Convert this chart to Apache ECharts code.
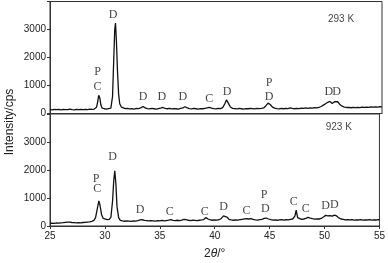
<!DOCTYPE html>
<html>
<head>
<meta charset="utf-8">
<script src="https://cdn.jsdelivr.net/npm/echarts@6/dist/echarts.min.js"></script>
<style>
  html, body { margin: 0; padding: 0; background: #fff; }
  #main { width: 388px; height: 263px; }
</style>
</head>
<body>
<div id="main"></div>
<script>
// ось 2θ и интенсивность (cps)
let angleTicks = [25, 30, 35, 40, 45, 50, 55];
let intensityTicks = [0, 1000, 2000, 3000];

// 293 K
let scan293 = [
  [25.0, 140], [25.2, 130], [25.4, 150], [25.6, 135], [25.8, 145], [26.0, 130], [26.2, 150], [26.4, 140],
  [26.6, 135], [26.8, 155], [27.0, 140], [27.2, 130], [27.4, 150], [27.6, 140], [27.8, 145], [28.0, 135],
  [28.2, 150], [28.4, 140], [28.6, 155], [28.8, 145], [29.0, 160], [29.2, 220], [29.3, 400], [29.4, 650],
  [29.5, 560], [29.6, 300], [29.7, 200], [29.9, 170], [30.1, 160], [30.3, 175], [30.5, 190], [30.65, 600],
  [30.75, 1800], [30.85, 3000], [30.92, 3230], [31.0, 2600], [31.1, 1500], [31.2, 700], [31.3, 350], [31.45, 230],
  [31.6, 190], [31.8, 175], [32.0, 180], [32.2, 165], [32.4, 175], [32.6, 160], [32.8, 180], [33.0, 175],
  [33.2, 200], [33.4, 250], [33.6, 200], [33.8, 175], [34.0, 165], [34.2, 180], [34.4, 170], [34.6, 160],
  [34.8, 175], [35.0, 190], [35.2, 215], [35.4, 180], [35.6, 170], [35.8, 185], [36.0, 165], [36.2, 175],
  [36.4, 170], [36.6, 160], [36.8, 180], [37.0, 200], [37.2, 240], [37.4, 200], [37.6, 175], [37.8, 165],
  [38.0, 180], [38.2, 170], [38.4, 160], [38.6, 175], [38.8, 170], [39.0, 185], [39.2, 200], [39.4, 215],
  [39.6, 190], [39.8, 175], [40.0, 165], [40.2, 180], [40.4, 175], [40.6, 210], [40.8, 350], [40.95, 490],
  [41.1, 380], [41.3, 230], [41.5, 185], [41.7, 175], [41.9, 165], [42.1, 180], [42.3, 170], [42.5, 160],
  [42.7, 175], [42.9, 170], [43.1, 185], [43.3, 175], [43.5, 165], [43.7, 180], [43.9, 175], [44.1, 185],
  [44.3, 200], [44.5, 270], [44.7, 370], [44.9, 320], [45.1, 230], [45.3, 190], [45.5, 175], [45.7, 165],
  [45.9, 180], [46.1, 170], [46.3, 185], [46.5, 175], [46.7, 200], [46.9, 180], [47.1, 170], [47.3, 185],
  [47.5, 175], [47.7, 190], [47.9, 180], [48.1, 200], [48.3, 185], [48.5, 200], [48.7, 190], [48.9, 210],
  [49.1, 200], [49.3, 215], [49.5, 250], [49.7, 300], [49.9, 350], [50.1, 400], [50.3, 430], [50.5, 360],
  [50.7, 420], [50.85, 490], [51.0, 420], [51.2, 320], [51.4, 260], [51.6, 230], [51.8, 215], [52.0, 220],
  [52.2, 205], [52.4, 215], [52.6, 210], [52.8, 220], [53.0, 210], [53.2, 225], [53.4, 215], [53.6, 230],
  [53.8, 220], [54.0, 235], [54.2, 225], [54.4, 240], [54.6, 230], [54.8, 245], [55.0, 240]
];

// 923 K
let scan923 = [
  [25.0, 90], [25.2, 100], [25.4, 95], [25.6, 110], [25.8, 105], [26.0, 115], [26.2, 120], [26.4, 130],
  [26.6, 140], [26.8, 135], [27.0, 125], [27.2, 120], [27.4, 110], [27.6, 120], [27.8, 115], [28.0, 125],
  [28.2, 130], [28.4, 140], [28.6, 150], [28.8, 165], [29.0, 200], [29.15, 300], [29.3, 600], [29.45, 900],
  [29.55, 750], [29.7, 400], [29.85, 270], [30.0, 240], [30.2, 230], [30.4, 240], [30.55, 320], [30.7, 900],
  [30.8, 1600], [30.9, 1975], [31.0, 1500], [31.1, 700], [31.25, 300], [31.4, 200], [31.6, 180], [31.8, 170],
  [32.0, 185], [32.2, 175], [32.4, 165], [32.6, 180], [32.8, 175], [33.0, 190], [33.2, 215], [33.4, 230],
  [33.6, 200], [33.8, 190], [34.0, 180], [34.2, 195], [34.4, 185], [34.6, 175], [34.8, 190], [35.0, 185],
  [35.2, 200], [35.4, 180], [35.6, 195], [35.8, 210], [36.0, 230], [36.2, 200], [36.4, 190], [36.6, 205],
  [36.8, 195], [37.0, 210], [37.2, 240], [37.4, 225], [37.6, 205], [37.8, 195], [38.0, 210], [38.2, 200],
  [38.4, 190], [38.6, 205], [38.8, 215], [39.0, 230], [39.2, 300], [39.4, 250], [39.6, 215], [39.8, 205],
  [40.0, 220], [40.2, 210], [40.4, 225], [40.6, 270], [40.8, 360], [40.95, 390], [41.1, 320], [41.3, 240],
  [41.5, 215], [41.7, 205], [41.9, 220], [42.1, 210], [42.3, 225], [42.5, 240], [42.7, 255], [42.9, 265],
  [43.1, 250], [43.3, 260], [43.5, 235], [43.7, 220], [43.9, 210], [44.1, 225], [44.3, 240], [44.5, 270],
  [44.7, 285], [44.9, 250], [45.1, 225], [45.3, 210], [45.5, 220], [45.7, 205], [45.9, 215], [46.1, 225],
  [46.3, 210], [46.5, 230], [46.7, 220], [46.9, 240], [47.1, 250], [47.3, 350], [47.42, 570], [47.55, 300],
  [47.7, 250], [47.9, 240], [48.1, 250], [48.3, 270], [48.5, 310], [48.7, 280], [48.9, 260], [49.1, 245],
  [49.3, 255], [49.5, 250], [49.7, 270], [49.9, 320], [50.1, 380], [50.3, 360], [50.5, 370], [50.7, 350],
  [50.9, 390], [51.1, 360], [51.3, 290], [51.5, 250], [51.7, 235], [51.9, 220], [52.1, 230], [52.3, 215],
  [52.5, 225], [52.7, 210], [52.9, 220], [53.1, 215], [53.3, 225], [53.5, 210], [53.7, 220], [53.9, 215],
  [54.1, 225], [54.3, 210], [54.5, 220], [54.7, 215], [54.9, 225], [55.0, 220]
];

// подписи фаз: [2θ, высота, буква]
let phases293 = [
  [29.3, 1490, 'P'], [29.3, 950, 'C'], [30.7, 3520, 'D'], [33.4, 600, 'D'], [35.1, 600, 'D'],
  [37.0, 580, 'D'], [39.4, 520, 'C'], [41.0, 785, 'D'], [44.8, 1105, 'P'], [44.8, 610, 'D'],
  [50.2, 785, 'D'], [50.9, 785, 'D']
];
let phases923 = [
  [29.2, 1680, 'P'], [29.3, 1320, 'C'], [30.7, 2470, 'D'], [33.2, 570, 'D'], [35.9, 510, 'C'],
  [39.1, 510, 'C'], [40.8, 670, 'D'], [42.9, 545, 'C'], [44.5, 1100, 'P'], [44.6, 630, 'D'],
  [47.2, 870, 'C'], [48.3, 600, 'C'], [50.1, 725, 'D'], [50.9, 740, 'D']
];
let tempLabels = [[51.3, 3380, '293 K'], [51.3, 3530, '923 K']];

let sans = 'Arial, "Liberation Sans", sans-serif';
let serif = '"Times New Roman", "Liberation Serif", serif';

function xAx(idx, withLabels) {
  return {
    type: 'value', gridIndex: idx, min: angleTicks[0], max: angleTicks[angleTicks.length - 1], interval: 5,
    axisLine: { show: true, onZero: false, lineStyle: { color: '#333', width: 1 } },
    axisTick: { show: withLabels, length: 3, lineStyle: { color: '#333' } },
    axisLabel: { show: withLabels, fontFamily: sans, fontSize: 10, color: '#222', margin: 5 },
    splitLine: { show: false },
    name: withLabels ? '{n|2}{i|θ}{n|/°}' : '',
    nameLocation: 'middle', nameGap: 22,
    nameTextStyle: { rich: {
      n: { fontFamily: sans, fontSize: 12, color: '#222' },
      i: { fontFamily: sans, fontSize: 12, fontStyle: 'italic', color: '#222' }
    } }
  };
}
function yAx(idx) {
  return {
    type: 'value', gridIndex: idx, min: 0, max: 4000, interval: 1000,
    axisLine: { show: true, lineStyle: { color: '#333', width: 1 } },
    axisTick: { show: true, length: 3, lineStyle: { color: '#333' } },
    axisLabel: {
      fontFamily: sans, fontSize: 10, color: '#222', margin: 4,
      formatter: v => intensityTicks.indexOf(v) >= 0 ? String(v) : ''
    },
    splitLine: { show: false }
  };
}
function scan(data, idx) {
  return {
    type: 'line', xAxisIndex: idx, yAxisIndex: idx, data: data,
    showSymbol: false, silent: true,
    lineStyle: { color: '#111', width: 1.3 }
  };
}
function letters(data, idx, font, size) {
  return {
    type: 'scatter', xAxisIndex: idx, yAxisIndex: idx, data: data,
    symbolSize: 1, itemStyle: { color: 'rgba(0,0,0,0)' }, silent: true,
    label: {
      show: true, position: 'inside', formatter: p => p.value[2],
      fontFamily: font, fontSize: size, color: '#111'
    },
    labelLayout: { hideOverlap: false }
  };
}

let chart = echarts.init(document.getElementById('main'));
chart.setOption({
  animation: false,
  backgroundColor: '#fff',
  grid: [
    { left: 50, right: 6, top: 1.5, height: 112, show: true, borderColor: '#333', borderWidth: 1 },
    { left: 50, right: 6, top: 114, height: 112, show: true, borderColor: '#333', borderWidth: 1 }
  ],
  xAxis: [xAx(0, false), xAx(1, true)],
  yAxis: [yAx(0), yAx(1)],
  graphic: [{
    type: 'text', rotation: Math.PI / 2, x: 10, y: 122,
    style: { text: 'Intensity/cps', fontFamily: sans, fontSize: 12, fill: '#222',
             textAlign: 'center', textVerticalAlign: 'middle' }
  }],
  series: [
    scan(scan293, 0),
    scan(scan923, 1),
    letters(phases293, 0, serif, 12),
    letters(phases923, 1, serif, 12),
    letters([tempLabels[0]], 0, sans, 10),
    letters([tempLabels[1]], 1, sans, 10)
  ]
});
</script>
</body>
</html>
